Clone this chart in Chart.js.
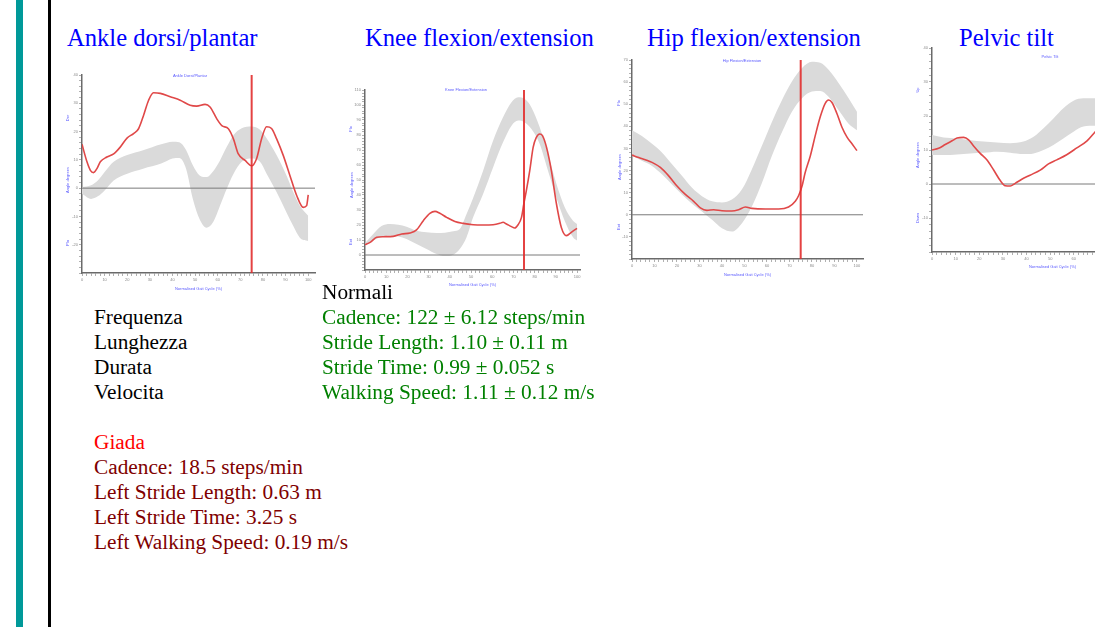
<!DOCTYPE html>
<html>
<head>
<meta charset="utf-8">
<script src="https://cdn.jsdelivr.net/npm/chart.js@4/dist/chart.umd.min.js"></script>
<style>
html, body { margin: 0; padding: 0; width: 1095px; height: 627px; overflow: hidden; background: #fff; }
body { position: relative; font-family: "Liberation Serif", "Times New Roman", serif; }
.bar { position: absolute; left: 16px; top: 0; width: 7px; height: 627px; background: #009999; }
.rule { position: absolute; left: 48px; top: 0; width: 3px; height: 627px; background: #000; }
.title { position: absolute; top: 23px; font-size: 24.6px; line-height: 30px; color: #0000ff; white-space: nowrap; }
canvas { position: absolute; }
.mini { position: absolute; font-family: "Liberation Sans", Arial, sans-serif; font-size: 4px; line-height: 5px; color: #5a5aff; white-space: nowrap; transform: translate(-50%, -50%); }
.rot { transform: translate(-50%, -50%) rotate(-90deg); }
.txt { position: absolute; font-size: 21.3px; line-height: 25px; white-space: nowrap; }
.norm { color: #008000; }
.giada { color: #800000; }
</style>
</head>
<body>
<div class="bar"></div>
<div class="rule"></div>

<div class="title" style="left:67px">Ankle dorsi/plantar</div>
<div class="title" style="left:365px">Knee flexion/extension</div>
<div class="title" style="left:647px">Hip flexion/extension</div>
<div class="title" style="left:959px">Pelvic tilt</div>

<canvas id="ankleChart" width="260" height="226" style="left:62px; top:66px"></canvas>
<canvas id="kneeChart" width="250" height="210" style="left:340px; top:78px"></canvas>
<canvas id="hipChart" width="270" height="226" style="left:604px; top:52px"></canvas>
<canvas id="pelvisChart" width="280" height="230" style="left:905px; top:40px"></canvas>

<div class="mini" style="left:190px; top:75px">Ankle Dorsi/Plantar</div>
<div class="mini rot" style="left:67px; top:118px">Dor</div>
<div class="mini rot" style="left:67px; top:180px">Angle degrees</div>
<div class="mini rot" style="left:67px; top:243px">Pla</div>

<div class="mini" style="left:466px; top:89px">Knee Flexion/Extension</div>
<div class="mini rot" style="left:350px; top:129px">Flx</div>
<div class="mini rot" style="left:351px; top:185px">Angle degrees</div>
<div class="mini rot" style="left:350px; top:242px">Ext</div>

<div class="mini" style="left:742px; top:60px">Hip Flexion/Extension</div>
<div class="mini rot" style="left:618px; top:103px">Flx</div>
<div class="mini rot" style="left:619px; top:167px">Angle degrees</div>
<div class="mini rot" style="left:618px; top:227px">Ext</div>

<div class="mini" style="left:1050px; top:56px">Pelvic Tilt</div>
<div class="mini rot" style="left:917px; top:90px">Up</div>
<div class="mini rot" style="left:917px; top:155px">Angle degrees</div>
<div class="mini rot" style="left:917px; top:218px">Down</div>

<div class="txt" style="left:322px; top:280px">Normali</div>
<div class="txt" style="left:94px; top:305px">Frequenza<br>Lunghezza<br>Durata<br>Velocita</div>
<div class="txt norm" style="left:322px; top:305px">Cadence: 122 &plusmn; 6.12 steps/min<br>Stride Length: 1.10 &plusmn; 0.11 m<br>Stride Time: 0.99 &plusmn; 0.052 s<br>Walking Speed: 1.11 &plusmn; 0.12 m/s</div>
<div class="txt" style="left:94px; top:430px; color:#ff0000">Giada</div>
<div class="txt giada" style="left:94px; top:455px">Cadence: 18.5 steps/min<br>Left Stride Length: 0.63 m<br>Left Stride Time: 3.25 s<br>Left Walking Speed: 0.19 m/s</div>

<script>
'use strict';

/* % of gait cycle where the marker line sits */
var toeOff = 75;
var cycleLabels = [0, 10, 20, 30, 40, 50, 60, 70, 80, 90, 100];

/* ankle */
var ankleBandX  = [0, 4, 7, 10, 14, 20, 27, 35, 40, 43, 46, 49, 52, 55, 58, 61, 64, 67, 70.6, 75, 78.7, 81.6, 86, 90.4, 93.4, 96.3, 100];
var ankleBandHi = [0.4, 1.0, 2.7, 5.7, 9.3, 11.7, 13.4, 15.5, 16.4, 16.2, 13.5, 8.1, 4.5, 3.9, 6.0, 9.8, 14.6, 18.8, 21.2, 21.8, 20.6, 17.6, 11.7, 4.5, -1.4, -6.2, -9.8];
var ankleBandLo = [-2.0, -3.8, -2.9, -0.8, 2.7, 5.1, 6.9, 8.7, 10.5, 10.7, 6.9, -3.8, -11, -14, -12, -6.2, -0.2, 5.1, 9.3, 10.5, 9.3, 5.1, -1.4, -8.6, -13.4, -17.5, -18.7];
var ankleGiadaX = [0, 2.2, 3.7, 5.1, 6.6, 8.1, 11, 14, 16.9, 19.9, 22.8, 25, 27.2, 29.4, 31.6, 34.6, 39, 43.4, 47.8, 50.7, 54.4, 56.6, 59.6, 61.8, 64.7, 66.9, 69.1, 72.1, 75, 77.2, 79.4, 81.6, 83.8, 86, 89, 91.9, 94.9, 97.8, 99.3, 100];
var ankleGiadaY = [15.5, 9.3, 6.3, 5.5, 6.9, 9.3, 11, 12.1, 14.5, 17.7, 19.3, 21, 25.7, 31, 33.7, 33.5, 32.3, 31.1, 29.3, 29, 29.6, 28.7, 24.5, 22.1, 21, 17.5, 12.1, 9.8, 7.9, 10.5, 17.5, 21.7, 21.1, 17.5, 11.5, 4.5, -2.6, -6.8, -6.2, -2.4];

/* knee */
var kneeBandX  = [0, 3.9, 7.8, 11.8, 15.7, 19.6, 24.3, 29, 33.8, 37.7, 41.6, 44.7, 47.9, 51, 55.7, 60.4, 65.1, 69.1, 72.2, 75.4, 78.5, 82.4, 86.3, 90.3, 94.2, 98.1, 100];
var kneeBandHi = [7.8, 14, 19.3, 20.7, 20.2, 18.9, 16.2, 15.1, 14.7, 14.9, 15.8, 17.3, 27.3, 38, 56.2, 76.2, 91.8, 101.8, 105.1, 104, 98.4, 85.1, 67.3, 47.3, 31.8, 22.9, 20.7];
var kneeBandLo = [6.2, 9.6, 12.2, 12.9, 12.4, 10.7, 7.3, 4, 0.7, -0.7, 0.2, 4, 11.8, 25.1, 40.7, 58.4, 75.1, 86.2, 89.6, 88.4, 84, 74, 56.2, 38.2, 22.7, 11.8, 9.6];
var kneeGiadaX = [0, 2.4, 5.5, 8.6, 13.3, 17.3, 21.2, 24.3, 27.5, 30.6, 33, 35.3, 38.5, 42.4, 46.3, 51, 55.7, 60.4, 63.6, 65.1, 66.7, 69.1, 70.6, 72.2, 73.8, 74.9, 76.1, 77.7, 79.3, 80.8, 82.4, 83.7, 85.6, 87.9, 90.3, 92.6, 95, 97.3, 100];
var kneeGiadaY = [6.9, 8.4, 11.8, 12.2, 12.4, 14, 14.7, 16.7, 22.9, 27.8, 29.1, 27.8, 25.1, 22.4, 21.1, 20.2, 20, 20.2, 21.1, 21.8, 20.7, 18.9, 18, 20.2, 25.1, 34, 42.9, 56.2, 71.8, 78.4, 80.7, 79.6, 71.8, 56.2, 34, 18.4, 12.9, 15.1, 17.8];

/* hip */
var hipBandX  = [0, 4.4, 8.9, 13.3, 17.8, 22.2, 26.7, 31.1, 35.6, 40, 44.4, 48.9, 53.3, 57.8, 62.2, 66.7, 71.1, 75.6, 80, 83.7, 87.4, 91.9, 96.3, 100];
var hipBandHi = [38.2, 35.6, 32.1, 28.2, 22.9, 17.6, 12.2, 8.4, 6.1, 5.6, 6.9, 11.5, 20.6, 31.3, 42, 51.9, 60.3, 66.4, 69.2, 68.7, 65.6, 59.5, 52.7, 46.6];
var hipBandLo = [26.7, 24.4, 22.1, 18.3, 13.7, 9.2, 5, 1.5, -2.3, -6.1, -7.6, -3.8, 3.8, 14.5, 26.7, 37.4, 46.6, 52.7, 55.7, 56, 53.4, 47.3, 41.2, 38.2];
var hipGiadaX = [0, 3, 5.9, 8.9, 12.6, 16.3, 20, 23.7, 27.4, 30.4, 33.3, 36.3, 40, 44.4, 47.4, 50.4, 53.3, 59.3, 65.2, 69.6, 72.6, 74.1, 75.6, 77, 79.3, 81.5, 83.7, 85.9, 87.4, 88.9, 91.1, 93.3, 95.6, 97.8, 100];
var hipGiadaY = [27, 25.9, 24.9, 23.7, 21.4, 17.6, 13, 9.2, 6.1, 3.1, 2, 2.3, 1.8, 1.7, 2.3, 3.5, 2.9, 2.6, 2.6, 3.5, 6.1, 8.7, 13, 19.1, 26.7, 35.9, 44.3, 50.4, 51.9, 50.8, 45.8, 39.7, 35.1, 32.1, 29];

/* pelvis (only the part left of the page edge is visible) */
var pelvisBandX  = [0, 4.9, 10.6, 16.2, 21.8, 27.5, 33.1, 38.7, 43, 47.2, 51.4, 55.6, 59.9, 64.1, 69, 74];
var pelvisBandHi = [14.4, 13.7, 13.4, 12.9, 12.5, 12.2, 12, 12.5, 13.9, 16.4, 19.3, 22.3, 24.5, 25.2, 25.2, 25.0];
var pelvisBandLo = [8.5, 8.5, 8.7, 9, 9.2, 9.5, 9.2, 8.8, 9, 10, 11.5, 13.4, 15.4, 16.9, 17.1, 17.0];
var pelvisGiadaX = [0, 2.8, 5.6, 8.5, 10.6, 13.4, 15.5, 17.6, 20.4, 23.2, 26.1, 28.9, 31, 33.1, 35.2, 38, 41.5, 45.8, 49.3, 52.8, 57, 61.3, 65.5, 69, 72];
var pelvisGiadaY = [10, 10.5, 11.6, 12.7, 13.5, 13.7, 13, 11.2, 9, 7.1, 4.1, 1, -0.5, -0.6, 0.2, 1.4, 2.6, 4.1, 5.9, 7.1, 8.6, 10.6, 12.6, 15.3, 17.5];

function pts(xs, ys) {
	return xs.map(function (x, i) { return { x: x, y: ys[i] }; });
}

function steps(min, max, step) {
	var out = [];
	for (var v = min; v <= max + 0.001; v += step) {
		out.push({ value: Math.round(v * 100) / 100 });
	}
	return out;
}

/* one small gait plot: normal band, subject curve, zero line and toe-off marker */
function drawJoint(id, bandX, bandHi, bandLo, giadaX, giadaY, box) {
	var ctx = document.getElementById(id).getContext('2d');
	return new Chart(ctx, {
		type: 'line',
		data: {
			datasets: [{
				label: 'toe off',
				data: [{ x: toeOff, y: box.yMin }, { x: toeOff, y: box.yMax }],
				borderColor: 'rgba(225, 45, 45, 0.9)',
				borderWidth: 2,
				pointRadius: 0,
				order: 0
			},
			{
				label: 'Giada',
				data: pts(giadaX, giadaY),
				borderColor: '#e04848',
				borderWidth: 1.6,
				pointRadius: 0,
				cubicInterpolationMode: 'monotone',
				order: 1
			},
			{
				label: 'zero',
				data: [{ x: 0, y: 0 }, { x: box.xMax, y: 0 }],
				borderColor: '#7a7a7a',
				borderWidth: 1,
				pointRadius: 0,
				order: 2
			},
			{
				label: 'normal high',
				data: pts(bandX, bandHi),
				borderWidth: 0,
				borderColor: 'rgba(0, 0, 0, 0)',
				backgroundColor: '#dadada',
				fill: '+1',
				pointRadius: 0,
				cubicInterpolationMode: 'monotone',
				order: 3
			},
			{
				label: 'normal low',
				data: pts(bandX, bandLo),
				borderWidth: 0,
				borderColor: 'rgba(0, 0, 0, 0)',
				fill: false,
				pointRadius: 0,
				cubicInterpolationMode: 'monotone',
				order: 4
			}]
		},
		options: {
			responsive: false,
			animation: false,
			devicePixelRatio: 1,
			layout: { padding: { top: box.padT, right: box.padR, left: 0, bottom: 0 } },
			plugins: {
				legend: { display: false },
				tooltip: { enabled: false }
			},
			scales: {
				x: {
					type: 'linear',
					min: 0,
					max: box.xMax,
					afterBuildTicks: function (s) { s.ticks = steps(0, 100, 2); },
					afterFit: function (s) { s.height = box.xH; },
					ticks: {
						autoSkip: false,
						maxRotation: 0,
						padding: 1,
						color: '#8a8a8a',
						font: { size: 4 },
						callback: function (v) { return cycleLabels.indexOf(v) >= 0 ? String(v) : ''; }
					},
					grid: { drawOnChartArea: false, tickLength: 3, color: '#b0b0b0' },
					border: { color: '#6a6a6a', width: 1.5 },
					title: {
						display: true,
						text: 'Normalised Gait Cycle (%)',
						color: '#5a5aff',
						font: { size: 4 },
						padding: { top: 1, bottom: 1 }
					}
				},
				y: {
					min: box.yMin,
					max: box.yMax,
					afterBuildTicks: function (s) { s.ticks = steps(box.yMin, box.yMax, 2); },
					afterFit: function (s) { s.width = box.yW; },
					ticks: {
						autoSkip: false,
						padding: 1,
						color: '#8a8a8a',
						font: { size: 4 },
						callback: function (v) { return (v % 10 === 0 && v !== box.yMin) ? String(v) : ''; }
					},
					grid: { drawOnChartArea: false, tickLength: 3, color: '#b0b0b0' },
					border: { color: '#6a6a6a', width: 1.5 }
				}
			}
		}
	});
}

Chart.defaults.font.family = '"Liberation Sans", Arial, sans-serif';

drawJoint('ankleChart', ankleBandX, ankleBandHi, ankleBandLo, ankleGiadaX, ankleGiadaY,
	{ yMin: -30, yMax: 40, xMax: 103, yW: 20, xH: 19, padT: 9, padR: 7 });
drawJoint('kneeChart', kneeBandX, kneeBandHi, kneeBandLo, kneeGiadaX, kneeGiadaY,
	{ yMin: -10, yMax: 110, xMax: 101.4, yW: 25, xH: 18, padT: 12, padR: 10 });
drawJoint('hipChart', hipBandX, hipBandHi, hipBandLo, hipGiadaX, hipGiadaY,
	{ yMin: -20, yMax: 70, xMax: 102.7, yW: 28, xH: 19, padT: 8, padR: 11 });
drawJoint('pelvisChart', pelvisBandX, pelvisBandHi, pelvisBandLo, pelvisGiadaX, pelvisGiadaY,
	{ yMin: -20, yMax: 40, xMax: 102, yW: 27, xH: 18, padT: 8, padR: 12 });
</script>
</body>
</html>
